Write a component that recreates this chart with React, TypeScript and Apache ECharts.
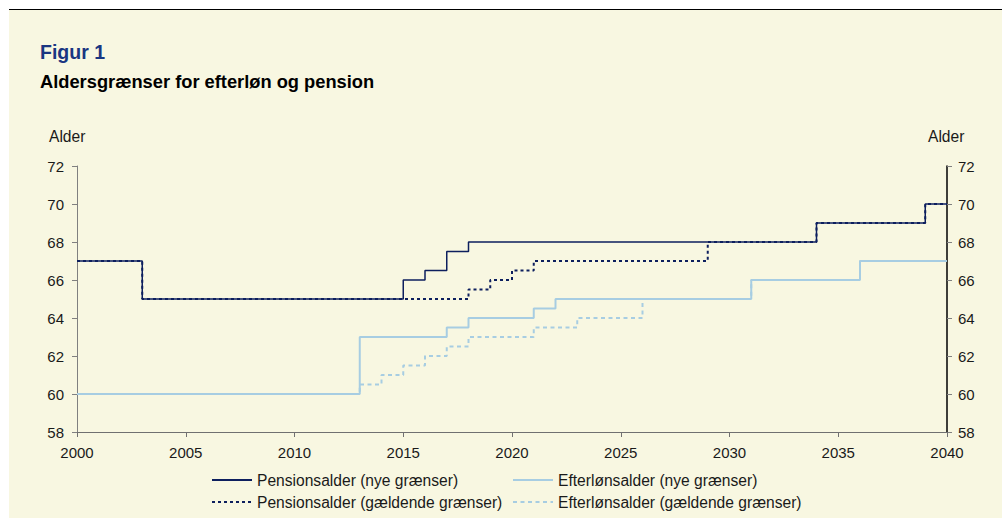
import React, { useEffect, useRef } from "react";
import * as echarts from "echarts";

const FONT = "'Liberation Sans', Arial, Helvetica, sans-serif";

const titleText = "Figur 1";
const subtitleText = "Aldersgrænser for efterløn og pension";
const axisName = "Alder";

const seriesNames = [
  "Pensionsalder (nye grænser)",
  "Efterlønsalder (nye grænser)",
  "Pensionsalder (gældende grænser)",
  "Efterlønsalder (gældende grænser)",
];

// change points (year, age) – step lines hold value until next year listed
const pensionNyeYears = [2000, 2003, 2015, 2016, 2017, 2018, 2034, 2039, 2040];
const pensionNyeValues = [67, 65, 66, 66.5, 67.5, 68, 69, 70, 70];

const efterlonNyeYears = [2000, 2013, 2017, 2018, 2021, 2022, 2031, 2036, 2040];
const efterlonNyeValues = [60, 63, 63.5, 64, 64.5, 65, 66, 67, 67];

const pensionGaeldYears = [2000, 2003, 2018, 2019, 2020, 2021, 2029, 2034, 2039, 2040];
const pensionGaeldValues = [67, 65, 65.5, 66, 66.5, 67, 68, 69, 70, 70];

const efterlonGaeldYears = [2000, 2013, 2014, 2015, 2016, 2017, 2018, 2021, 2023, 2026, 2031, 2036, 2040];
const efterlonGaeldValues = [60, 60.5, 61, 61.5, 62, 62.5, 63, 63.5, 64, 65, 66, 67, 67];

const xMin = 2000;
const xMax = 2040;
const xStep = 5;
const yMin = 58;
const yMax = 72;
const yStep = 2;

const NAVY = "#0d1f5e";
const LIGHT = "#a7cde2";

const zip = (xs: number[], ys: number[]) => xs.map((x, i) => [x, ys[i]]);

export default function App() {
  const ref = useRef<HTMLDivElement>(null);

  useEffect(() => {
    if (!ref.current) return;
    const chart = echarts.init(ref.current, undefined, { renderer: "svg" });

    const yAxisCommon = {
      type: "value" as const,
      min: yMin,
      max: yMax,
      interval: yStep,
      splitLine: { show: false },
      axisTick: { show: true, length: 5, lineStyle: { color: "#808080" } },
      axisLabel: {
        color: "#1a1a1a",
        fontSize: 15,
        fontFamily: FONT,
      },
    };

    const legendCommon = {
      orient: "horizontal" as const,
      padding: 0,
      itemWidth: 40,
      itemHeight: 14,
      itemGap: 0,
      itemStyle: { opacity: 0 },
      textStyle: { color: "#1a1a1a", fontSize: 15.6, fontFamily: FONT },
    };

    chart.setOption({
      animation: false,
      backgroundColor: "#ffffff",
      textStyle: { fontFamily: FONT },
      graphic: [
        {
          type: "rect",
          shape: { x: 9, y: 10, width: 993, height: 508 },
          style: { fill: "#f8f7e1" },
          z: -10,
        },
        {
          type: "line",
          shape: { x1: 9, y1: 9.5, x2: 1002, y2: 9.5 },
          style: { stroke: "#000000", lineWidth: 1 },
        },
        {
          type: "text",
          x: 40,
          y: 52,
          style: {
            text: titleText,
            font: `bold 19.5px ${FONT}`,
            fill: "#1a3681",
            verticalAlign: "middle",
          },
        },
        {
          type: "text",
          x: 40,
          y: 81,
          style: {
            text: subtitleText,
            font: `bold 18.3px ${FONT}`,
            fill: "#000000",
            verticalAlign: "middle",
          },
        },
        {
          type: "text",
          x: 49,
          y: 136,
          style: {
            text: axisName,
            font: `15.6px ${FONT}`,
            fill: "#1a1a1a",
            verticalAlign: "middle",
          },
        },
        {
          type: "text",
          x: 928,
          y: 136,
          style: {
            text: axisName,
            font: `15.6px ${FONT}`,
            fill: "#1a1a1a",
            verticalAlign: "middle",
          },
        },
      ],
      grid: { left: 77, right: 55, top: 166, bottom: 86, containLabel: false },
      xAxis: {
        type: "value",
        min: xMin,
        max: xMax,
        interval: xStep,
        splitLine: { show: false },
        axisLine: { show: true, lineStyle: { color: "#707070", width: 1 } },
        axisTick: { show: true, length: 5, lineStyle: { color: "#707070" } },
        axisLabel: {
          color: "#1a1a1a",
          fontSize: 15,
          fontFamily: FONT,
          margin: 13,
          formatter: (v: number) => String(v),
        },
      },
      yAxis: [
        {
          ...yAxisCommon,
          position: "left",
          axisLine: { show: true, lineStyle: { color: "#808080", width: 1 } },
          axisLabel: { ...yAxisCommon.axisLabel, margin: 13 },
        },
        {
          ...yAxisCommon,
          position: "right",
          axisLine: { show: true, lineStyle: { color: "#000000", width: 1.5 } },
          axisLabel: { ...yAxisCommon.axisLabel, margin: 11 },
        },
      ],
      legend: [
        { ...legendCommon, data: [seriesNames[0]], left: 211, top: 472 },
        { ...legendCommon, data: [seriesNames[1]], left: 512, top: 472 },
        { ...legendCommon, data: [seriesNames[2]], left: 211, top: 494 },
        { ...legendCommon, data: [seriesNames[3]], left: 512, top: 494 },
      ],
      series: [
        {
          name: seriesNames[0],
          type: "line",
          step: "end",
          symbol: "none",
          data: zip(pensionNyeYears, pensionNyeValues),
          lineStyle: { color: NAVY, width: 1.5, type: "solid" },
          itemStyle: { color: NAVY },
          z: 2,
        },
        {
          name: seriesNames[1],
          type: "line",
          step: "end",
          symbol: "none",
          data: zip(efterlonNyeYears, efterlonNyeValues),
          lineStyle: { color: LIGHT, width: 2, type: "solid" },
          itemStyle: { color: LIGHT },
          z: 2,
        },
        {
          name: seriesNames[2],
          type: "line",
          step: "end",
          symbol: "none",
          data: zip(pensionGaeldYears, pensionGaeldValues),
          lineStyle: { color: NAVY, width: 2, type: [3, 3] },
          itemStyle: { color: NAVY },
          z: 3,
        },
        {
          name: seriesNames[3],
          type: "line",
          step: "end",
          symbol: "none",
          data: zip(efterlonGaeldYears, efterlonGaeldValues),
          lineStyle: { color: LIGHT, width: 2, type: [4, 3.5] },
          itemStyle: { color: LIGHT },
          z: 3,
        },
      ],
    });

    return () => {
      chart.dispose();
    };
  }, []);

  return (
    <div
      ref={ref}
      style={{ position: "fixed", left: 0, top: 0, width: 1002, height: 518 }}
    />
  );
}
